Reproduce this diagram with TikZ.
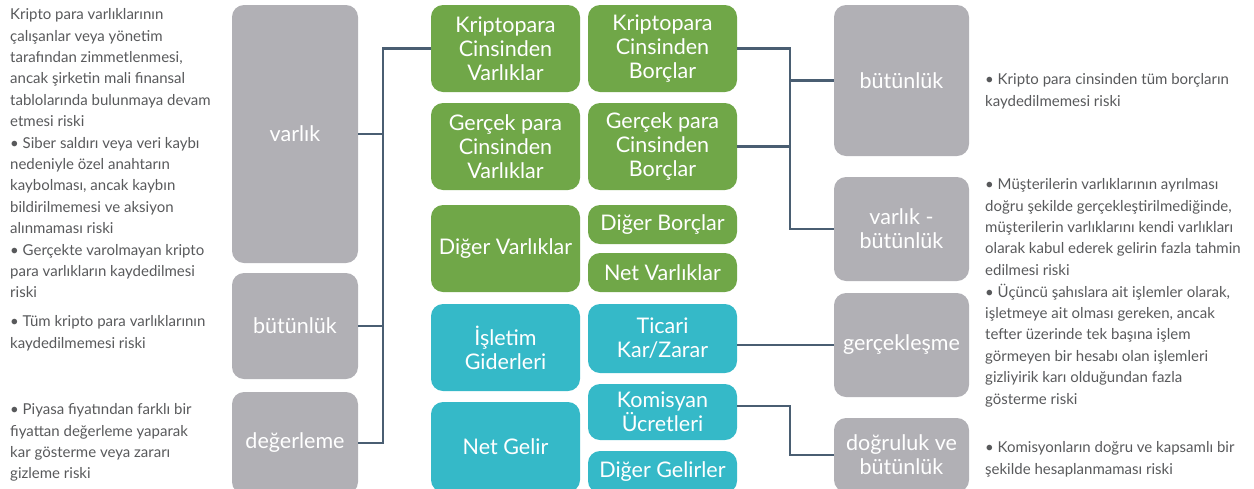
\documentclass[tikz,border=0pt]{standalone}
\usepackage{fontspec}
\setmainfont{Lato}
\usepackage{tikz}

\definecolor{boxgreen}{HTML}{70A748}
\definecolor{boxcyan}{HTML}{35B9C8}
\definecolor{boxgray}{HTML}{B1B0B5}
\definecolor{linkblue}{HTML}{4A5E72}
\definecolor{risktext}{HTML}{58595B}

\begin{document}
\begin{tikzpicture}[x=1pt, y=-1pt,
  box/.style={rectangle, rounded corners=12pt, text=white, align=center,
    inner sep=0pt, font=\fontsize{21.5}{24}\selectfont},
  greenbox/.style={box, fill=boxgreen, minimum width=149pt},
  cyanbox/.style={box, fill=boxcyan, minimum width=149pt},
  graybox/.style={box, fill=boxgray},
  risk/.style={anchor=north west, align=left, inner sep=0pt, text=risktext,
    font=\fontsize{15}{21.4}\selectfont},
  link/.style={draw=linkblue, line width=2.4pt}]

\useasboundingbox (0,0) rectangle (1254,488);
\clip (0,0) rectangle (1254,488);

%
% Left risk texts
%
\path
(10,8.5) node [risk] (riskA) {Kripto para varlıklarının\\
çalışanlar veya yönetim\\
tarafından zimmetlenmesi,\\
ancak şirketin mali finansal\\
tablolarında bulunmaya devam\\
etmesi riski\\
• Siber saldırı veya veri kaybı\\
nedeniyle özel anahtarın\\
kaybolması, ancak kaybın\\
bildirilmemesi ve aksiyon\\
alınmaması riski\\
• Gerçekte varolmayan kripto\\
para varlıkların kaydedilmesi\\
riski};
\path
(10,315.5) node [risk] (riskB) {• Tüm kripto para varlıklarının\\
kaydedilmemesi riski};
\path
(10,403.5) node [risk] (riskC) {• Piyasa fiyatından farklı bir\\
fiyattan değerleme yaparak\\
kar gösterme veya zararı\\
gizleme riski};

%
% Left assertions
%
\node [graybox, minimum width=126pt, minimum height=258pt] (varlik) at (295,134) {varlık};
\node [graybox, minimum width=126pt, minimum height=106pt] (butL) at (295,326) {bütünlük};
\node [graybox, minimum width=126pt, minimum height=102pt] (deger) at (295,443) {değerleme};

%
% Accounts, first column
%
\node [greenbox, minimum height=87pt] (kva) at (505.5,48.5) {Kriptopara\\Cinsinden\\Varlıklar};
\node [greenbox, minimum height=87pt] (gva) at (505.5,146.5) {Gerçek para\\Cinsinden\\Varlıklar};
\node [greenbox, minimum height=87pt] (dva) at (505.5,248.5) {Diğer Varlıklar};
\node [cyanbox, minimum height=87pt] (isl) at (505.5,347.5) {İşletim\\Giderleri};
\node [cyanbox, minimum height=90pt] (ngl) at (505.5,447) {Net Gelir};

%
% Accounts, second column
%
\node [greenbox, minimum height=87pt] (kbo) at (662.5,48.5) {Kriptopara\\Cinsinden\\Borçlar};
\node [greenbox, minimum height=87pt] (gbo) at (662.5,146.5) {Gerçek para\\Cinsinden\\Borçlar};
\node [greenbox, minimum height=39pt] (dbo) at (662.5,224.5) {Diğer Borçlar};
\node [greenbox, minimum height=39pt] (nva) at (662.5,272.5) {Net Varlıklar};
\node [cyanbox, minimum height=69pt] (tic) at (662.5,338.5) {Ticari\\Kar/Zarar};
\node [cyanbox, minimum height=56pt] (kom) at (662.5,412) {Komisyan\\Ücretleri};
\node [cyanbox, minimum height=42pt] (dge) at (662.5,472) {Diğer Gelirler};

%
% Right assertions
%
\node [graybox, minimum width=135pt, minimum height=151pt] (butR) at (901.5,80.5) {bütünlük};
\node [graybox, minimum width=135pt, minimum height=104pt] (vbut) at (901.5,229) {varlık -\\bütünlük};
\node [graybox, minimum width=135pt, minimum height=104pt] (ger) at (901.5,345) {gerçekleşme};
\node [graybox, minimum width=135pt, minimum height=74pt] (dog) at (901.5,455) {doğruluk ve\\bütünlük};

%
% Right risk texts
%
\path
(985,73.5) node [risk] (riskD) {• Kripto para cinsinden tüm borçların\\
kaydedilmemesi riski};
\path
(985,178.5) node [risk] (riskE) {• Müşterilerin varlıklarının ayrılması\\
doğru şekilde gerçekleştirilmediğinde,\\
müşterilerin varlıklarını kendi varlıkları\\
olarak kabul ederek gelirin fazla tahmin\\
edilmesi riski};
\path
(985,283.5) node [risk] (riskF) {• Üçüncü şahıslara ait işlemler olarak,\\
işletmeye ait olması gereken, ancak\\
tefter üzerinde tek başına işlem\\
görmeyen bir hesabı olan işlemleri\\
gizliyirik karı olduğundan fazla\\
gösterme riski};
\path
(985,441.5) node [risk] (riskG) {• Komisyonların doğru ve kapsamlı bir\\
şekilde hesaplanmaması riski};

%
% Connectors
%
\coordinate (busL) at (383,0);
\coordinate (busR) at (790,0);

\draw [link] (kva.west) -- (kva.west -| busL) |- (deger.east);
\draw [link] (varlik.east) -- (varlik.east -| busL);
\draw [link] (butL.east) -- (butL.east -| busL);

\draw [link] (kbo.east) -- (kbo.east -| busR) |- (vbut.west);
\draw [link] (gbo.east) -- (gbo.east -| busR);
\draw [link] (butR.west) -- (butR.west -| busR);

\draw [link] (tic.east |- ger.west) -- (ger.west);

\draw [link] ([yshift=6pt]kom.east) -- ([yshift=6pt]kom.east -| busR) |- (dog.west);

\end{tikzpicture}
\end{document}
